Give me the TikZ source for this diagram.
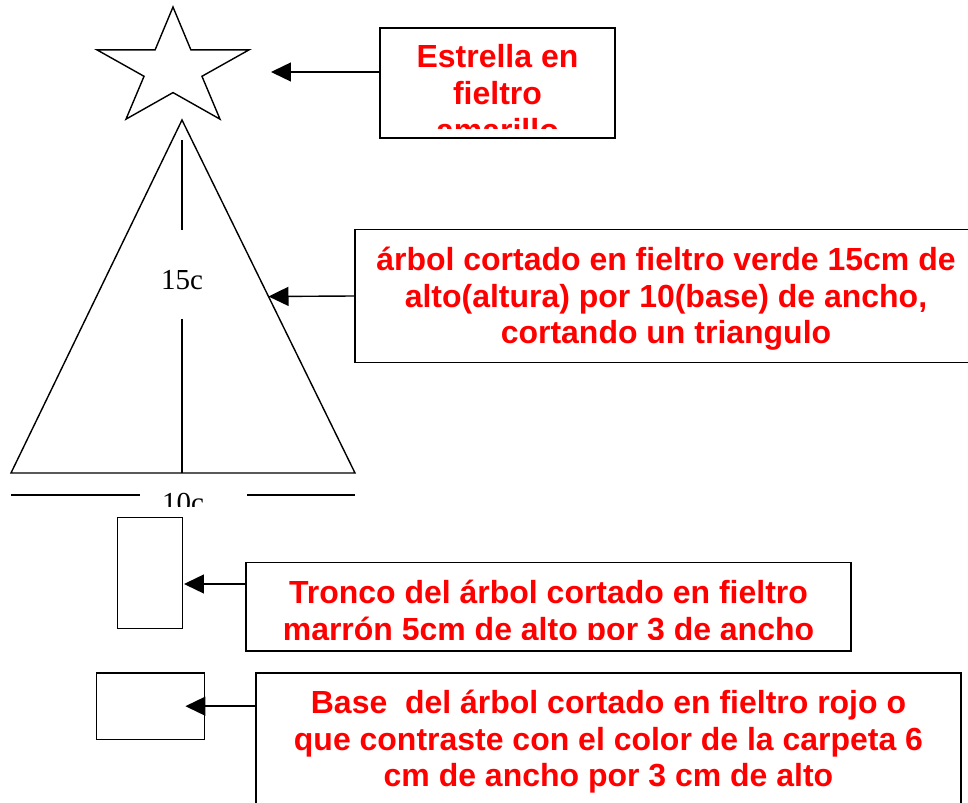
\documentclass[tikz,border=0pt]{standalone}
\usepackage{fontspec}
\setmainfont{Liberation Serif}
\newfontfamily\sinserif{Liberation Sans}
\usetikzlibrary{arrows.meta}
\usetikzlibrary{calc}

\tikzset{
  caja/.style={draw, inner sep=0pt},
  rotulo/.style={text=red, font=\sinserif\bfseries\fontsize{18.2}{21}\selectfont, align=center, inner sep=0pt, anchor=base},
  medida/.style={font=\fontsize{16.5}{18}\selectfont, inner sep=0pt},
  flecha/.style={-{Triangle[length=0.4cm, width=0.38cm]}}
}

\begin{document}
\begin{tikzpicture}[x=0.02cm, y=-0.02cm, line width=0.8pt]
            \useasboundingbox (0,0) rectangle (968,803);

            % estrella
            \draw[shift={(173,69)}, xscale=1.29] (-90:62)
                \foreach \k in {1,...,9} { -- ({-90+36*\k}:{ifthenelse(mod(\k,2)==0,62,23.6)}) } -- cycle;
            \coordinate (puntaestrella) at (271,72);

            % arbol
            \coordinate (cima) at (182,120);
            \coordinate (izq) at (11,473);
            \coordinate (der) at (355,473);
            \draw (cima) -- (der) -- (izq) -- cycle;
            \coordinate (puntaarbol) at ($(cima)!0.5!(der)$);

            \draw (182,140) -- (182,230);
            \draw (182,319) -- (182,473);
            \node[medida] (alto) at (182,280) {15c};

            \draw (11,495) -- (140,495);
            \draw (247,495) -- (355,495);
            \begin{scope}
                \clip (140,480) rectangle (247,507);
                \node[medida, anchor=base] (ancho) at (183,513) {10c};
            \end{scope}

            % tronco y base
            \node[caja, minimum width=1.3cm, minimum height=2.21cm] (tronco) at (150.2,573) {};
            \node[caja, minimum width=2.16cm, minimum height=1.33cm] (base) at (150.7,706.2) {};
            \coordinate (puntatronco) at (184,584);
            \coordinate (puntabase) at ([xshift=-0.4cm]base.east);

            % cajas de texto (el ancla base queda en la ultima linea)
            \node[caja, minimum width=4.7cm, minimum height=2.2cm] (cajaestrella) at (497.5,83) {};
            \node[caja, minimum width=12.44cm, minimum height=2.67cm] (cajaarbol) at (666,296) {};
            \node[caja, minimum width=12.1cm, minimum height=1.77cm] (cajatronco) at (548.5,606.7) {};
            \node[caja, minimum width=14.1cm, minimum height=3.4cm] (cajabase) at (608.5,758) {};

            \begin{scope}
                \clip (380,28) rectangle (615,128.3);
                \node[rotulo] (txtestrella) at (497.5,141.7) {Estrella en\\fieltro\\amarillo};
            \end{scope}
            \node[rotulo] (txtarbol) at (666,344) {árbol cortado en fieltro verde 15cm de\\alto(altura) por 10(base) de ancho,\\cortando un triangulo};
            \begin{scope}
                \clip (246,562) rectangle (851,639.5);
                \node[rotulo] (txttronco) at (548.5,640.3) {Tronco del árbol cortado en fieltro\\marrón 5cm de alto por 3 de ancho};
            \end{scope}
            \node[rotulo] (txtbase) at (608.5,787) {Base~ del árbol cortado en fieltro rojo o\\que contraste con el color de la carpeta 6\\cm de ancho por 3 cm de alto};

            \draw[flecha] (cajaestrella.west |- puntaestrella) -- (puntaestrella);
            \draw[flecha] (cajaarbol.west) -- (puntaarbol);
            \draw[flecha] (cajatronco.west |- puntatronco) -- (puntatronco);
            \draw[flecha] (cajabase.west |- puntabase) -- (puntabase);
        \end{tikzpicture}
\end{document}
